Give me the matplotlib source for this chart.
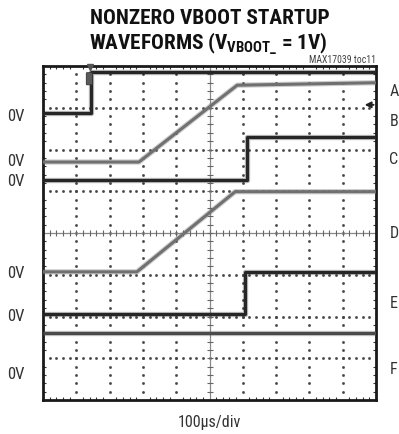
import numpy as np
import matplotlib.pyplot as plt
from matplotlib import font_manager
from matplotlib.patches import FancyBboxPatch

# pick the narrowest installed sans face we can find
installed = font_manager.fontManager.ttflist
names = {f.name for f in installed}
narrow = None
for cand in ['Liberation Sans Narrow', 'Roboto Condensed', 'Open Sans Condensed',
             'Noto Sans Condensed', 'DejaVu Sans Condensed']:
    if cand in names:
        narrow = cand
        break
stretch = 'normal'
if narrow is None:
    cond = [f for f in installed if str(f.stretch) in ('condensed', 'semi-condensed', '75', '87')
            or 'Condensed' in f.fname or 'Narrow' in f.fname]
    if cond:
        narrow = cond[0].name
        stretch = 'condensed'
    else:
        narrow = 'Roboto'
plt.rcParams['font.family'] = [narrow, 'DejaVu Sans']
plt.rcParams['font.stretch'] = stretch
plt.rcParams['mathtext.fontset'] = 'custom'
plt.rcParams['mathtext.bf'] = narrow + ':bold'
plt.rcParams['mathtext.rm'] = narrow

# scope traces as breakpoints, x in time divisions, y in vertical divisions
trace_a_x = [0.0, 1.43, 1.43, 10.0]
trace_a_y = [6.87, 6.87, 7.86, 7.86]

trace_b_x = [0.0, 2.88, 5.83, 10.0]
trace_b_y = [5.70, 5.70, 7.54, 7.60]

trace_c_x = [0.0, 6.13, 6.13, 10.0]
trace_c_y = [5.27, 5.27, 6.30, 6.30]

trace_d_x = [0.0, 2.82, 5.77, 10.0]
trace_d_y = [3.07, 3.07, 4.99, 4.99]

trace_e_x = [0.0, 6.07, 6.07, 10.0]
trace_e_y = [2.06, 2.06, 3.07, 3.07]

trace_f_x = [0.0, 10.0]
trace_f_y = [1.60, 1.60]

zero_labels = ["0V", "0V", "0V", "0V", "0V", "0V"]
zero_label_y = [6.79, 5.71, 5.23, 3.04, 2.00, 0.60]

channel_names = ["A", "B", "C", "D", "E", "F"]
channel_y = [7.38, 6.67, 5.75, 4.00, 2.32, 0.72]

DARK = '#262626'
GREY = '#707070'

fig = plt.figure(figsize=(3.99, 4.34), dpi=100)
ax = fig.add_axes([0.1078, 0.0783, 0.8346, 0.7696])
ax.set_xlim(0, 10)
ax.set_ylim(0, 8)

# frame with small inward ticks every fifth of a division
for sp in ax.spines.values():
    sp.set_linewidth(2.0)
    sp.set_color('#1a1a1a')
ax.set_xticks(np.arange(0, 10.01, 1))
ax.set_yticks(np.arange(0, 8.01, 1))
ax.set_xticks(np.arange(0, 10.01, 0.2), minor=True)
ax.set_yticks(np.arange(0, 8.01, 0.2), minor=True)
ax.tick_params(which='both', direction='in', top=True, right=True,
               labelbottom=False, labelleft=False, color='#333333')
ax.tick_params(which='major', length=0)
ax.tick_params(which='minor', length=2.5, width=0.8)

# dotted graticule
sub = np.arange(0.2, 8, 0.2)
for k in range(1, 10):
    if k == 5:
        continue
    ax.plot(np.full_like(sub, k), sub, ls='none', marker='s', ms=0.9, color='#444444')
sub_x = np.arange(0.2, 10, 0.2)
for k in range(1, 8):
    if k == 4:
        continue
    ax.plot(sub_x, np.full_like(sub_x, k), ls='none', marker='s', ms=0.9, color='#444444')

# center crosshair with tick marks
ax.axhline(4, color='#888888', lw=0.9, zorder=2)
ax.axvline(5, color='#888888', lw=0.9, zorder=2)
ax.plot(sub_x, np.full_like(sub_x, 4), ls='none', marker='|', ms=5, mew=0.8, color='#666666')
ax.plot(np.full_like(sub, 5), sub, ls='none', marker='_', ms=5, mew=0.8, color='#666666')

# traces
for xs, ys, c in [(trace_a_x, trace_a_y, DARK), (trace_b_x, trace_b_y, GREY),
                  (trace_c_x, trace_c_y, DARK), (trace_d_x, trace_d_y, GREY),
                  (trace_e_x, trace_e_y, DARK), (trace_f_x, trace_f_y, '#4a4a4a')]:
    ax.plot(xs, ys, color=c, lw=3.8, alpha=0.35, solid_capstyle='butt', zorder=4)
    ax.plot(xs, ys, color=c, lw=2.2, solid_capstyle='butt', zorder=5)

# trigger position marker and trigger level arrow
ax.add_patch(FancyBboxPatch((1.32, 7.57), 0.15, 0.25, boxstyle='round,pad=0.02',
                            fc='#5a5a5a', ec='#333333', lw=0.6, zorder=6))
ax.plot([1.40], [7.97], marker='v', ms=4, color='#555555', zorder=6, clip_on=False)
ax.annotate('', xy=(9.66, 7.07), xytext=(9.93, 7.07), zorder=7,
            arrowprops=dict(arrowstyle='-|>', color='#222222', lw=1.3,
                            mutation_scale=9, shrinkA=0, shrinkB=0))

for lab, y in zip(zero_labels, zero_label_y):
    ax.text(-0.54, y, lab, ha='right', va='center', fontsize=12, color='#333333', clip_on=False)
for lab, y in zip(channel_names, channel_y):
    ax.text(10.40, y, lab, ha='left', va='center', fontsize=11.5, color='#333333', clip_on=False)

fig.text(0.5263, 0.957, "NONZERO VBOOT STARTUP", ha='center', va='center',
         fontsize=15.3, fontweight='bold', color='#111111')
fig.text(0.521, 0.899, r"WAVEFORMS (V$\mathbf{_{VBOOT\_}}$ = 1V)", ha='center', va='center',
         fontsize=15.3, fontweight='bold', color='#111111')
fig.text(0.9424, 0.862, "MAX17039 toc11", ha='right', va='center', fontsize=7, color='#444444')
fig.text(0.524, 0.026, "100µs/div", ha='center', va='center', fontsize=11.5, color='#333333')

fig.savefig("out.png", dpi=100)
